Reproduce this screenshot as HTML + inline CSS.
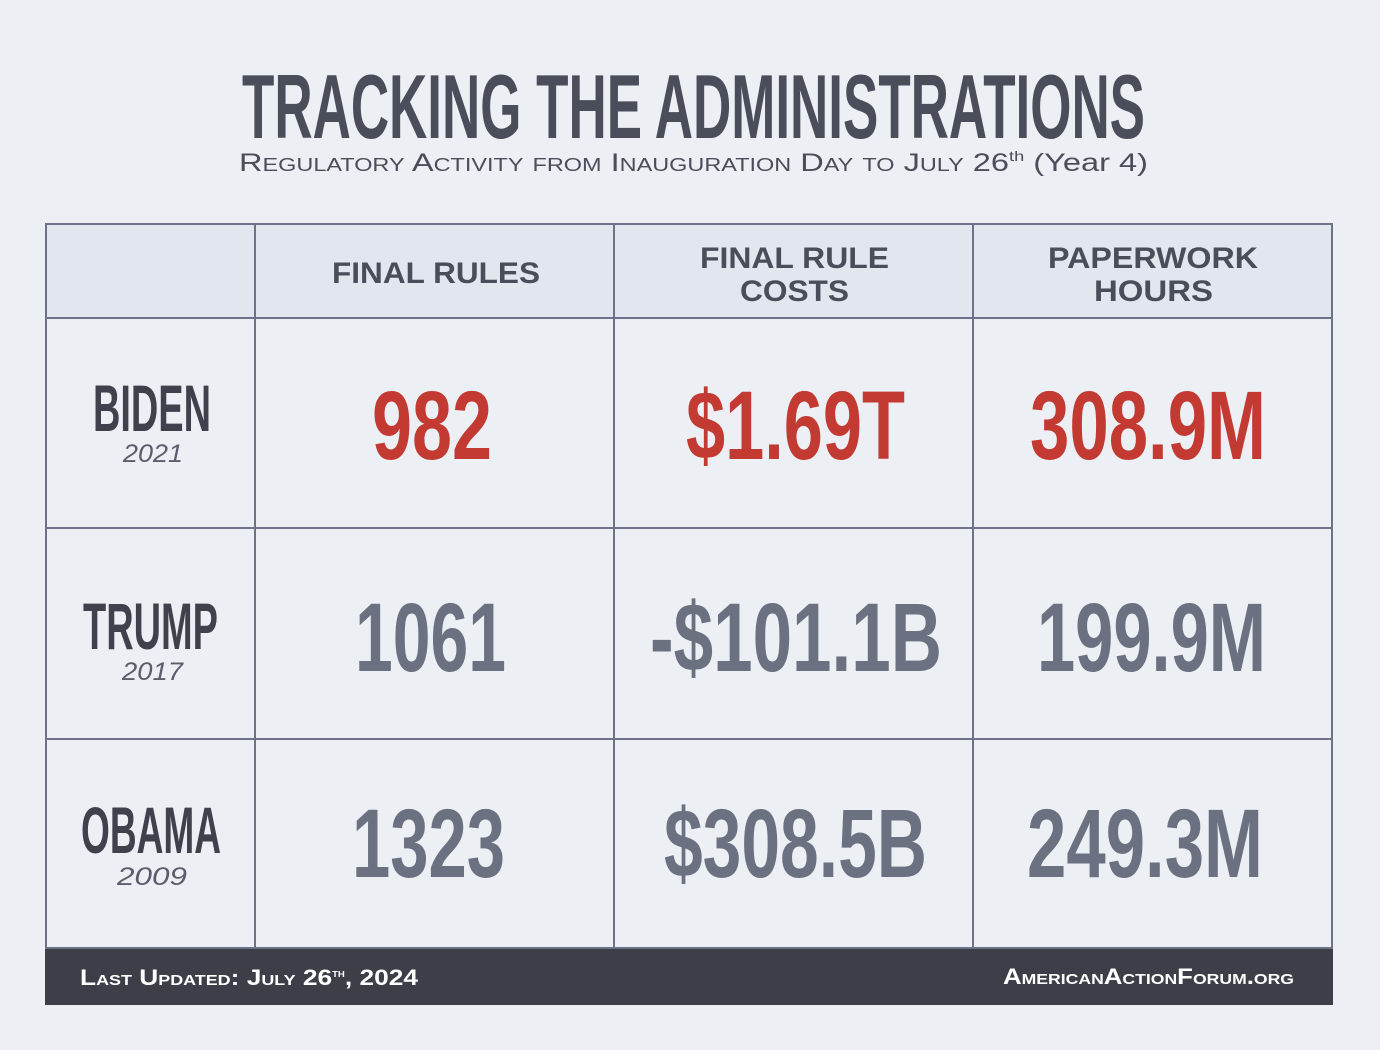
<!DOCTYPE html>
<html><head><meta charset="utf-8"><style>
html,body{margin:0;padding:0;background:#eceff3;}
svg{display:block}
</style></head><body>
<svg width="1380" height="1050" viewBox="0 0 1380 1050" xmlns="http://www.w3.org/2000/svg">
<rect width="1380" height="1050" fill="#eceff3"/>
<g font-family="'Liberation Sans Narrow','Liberation Sans',sans-serif" font-weight="bold">
<text x="242" y="138" font-size="91" fill="#4a4d5a" textLength="903" lengthAdjust="spacingAndGlyphs">TRACKING THE ADMINISTRATIONS</text>
</g>
<text x="239" y="171" font-family="'Liberation Sans',sans-serif" font-size="25" fill="#4a4d5a" textLength="909" lengthAdjust="spacingAndGlyphs"><tspan style="font-variant:small-caps">Regulatory Activity from Inauguration Day to July 26</tspan><tspan font-size="14" dy="-10">th</tspan><tspan dy="10"> (Year 4)</tspan></text>

<rect x="46" y="224" width="1286" height="94" fill="#e2e6ee"/>
<g stroke="#6e7288" stroke-width="2" fill="none">
<rect x="46" y="224" width="1286" height="724"/>
<line x1="46" y1="318" x2="1332" y2="318"/>
<line x1="46" y1="528" x2="1332" y2="528"/>
<line x1="46" y1="739" x2="1332" y2="739"/>
<line x1="255" y1="224" x2="255" y2="948"/>
<line x1="614" y1="224" x2="614" y2="948"/>
<line x1="973" y1="224" x2="973" y2="948"/>
</g>
<g font-family="'Liberation Sans',sans-serif" font-weight="bold" font-size="30" fill="#4a4d5a">
<text x="332" y="283" textLength="208" lengthAdjust="spacingAndGlyphs">FINAL RULES</text>
<text x="700" y="268" textLength="189" lengthAdjust="spacingAndGlyphs">FINAL RULE</text>
<text x="740" y="301" textLength="109" lengthAdjust="spacingAndGlyphs">COSTS</text>
<text x="1048" y="268" textLength="210" lengthAdjust="spacingAndGlyphs">PAPERWORK</text>
<text x="1094" y="301" textLength="119" lengthAdjust="spacingAndGlyphs">HOURS</text>
</g>
<g font-family="'Liberation Sans Narrow','Liberation Sans',sans-serif" font-weight="bold" font-size="66" fill="#3f424d">
<text x="93" y="431" textLength="118" lengthAdjust="spacingAndGlyphs">BIDEN</text>
<text x="83" y="649" textLength="135" lengthAdjust="spacingAndGlyphs">TRUMP</text>
<text x="81" y="853" textLength="140" lengthAdjust="spacingAndGlyphs">OBAMA</text>
</g>
<g font-family="'Liberation Sans',sans-serif" font-style="italic" font-size="25" fill="#5a5e6c">
<text x="123" y="462" textLength="60" lengthAdjust="spacingAndGlyphs">2021</text>
<text x="122" y="680" textLength="61" lengthAdjust="spacingAndGlyphs">2017</text>
<text x="117" y="885" textLength="70" lengthAdjust="spacingAndGlyphs">2009</text>
</g>
<g font-family="'Liberation Sans Narrow','Liberation Sans',sans-serif" font-weight="bold" font-size="97">
<g fill="#c23a32">
<text x="372" y="459" textLength="120" lengthAdjust="spacingAndGlyphs">982</text>
<text x="686" y="459" textLength="219" lengthAdjust="spacingAndGlyphs">$1.69T</text>
<text x="1030" y="459" textLength="236" lengthAdjust="spacingAndGlyphs">308.9M</text>
</g>
<g fill="#6b7180">
<text x="355" y="671" textLength="151" lengthAdjust="spacingAndGlyphs">1061</text>
<text x="650" y="671" textLength="292" lengthAdjust="spacingAndGlyphs">-$101.1B</text>
<text x="1037" y="671" textLength="229" lengthAdjust="spacingAndGlyphs">199.9M</text>
<text x="352" y="877" textLength="153" lengthAdjust="spacingAndGlyphs">1323</text>
<text x="664" y="877" textLength="263" lengthAdjust="spacingAndGlyphs">$308.5B</text>
<text x="1027" y="877" textLength="236" lengthAdjust="spacingAndGlyphs">249.3M</text>
</g>
</g>
<rect x="45" y="949" width="1288" height="56" fill="#3c3f48"/>
<g font-family="'Liberation Sans',sans-serif" font-weight="bold" font-size="22" fill="#ffffff" style="font-variant:small-caps">
<text x="80" y="985" textLength="338" lengthAdjust="spacingAndGlyphs">Last Updated: July 26<tspan font-size="12" dy="-8">th</tspan><tspan dy="8">, 2024</tspan></text>
<text x="1003" y="984" textLength="291" lengthAdjust="spacingAndGlyphs">AmericanActionForum.org</text>
</g>
</svg>
</body></html>
